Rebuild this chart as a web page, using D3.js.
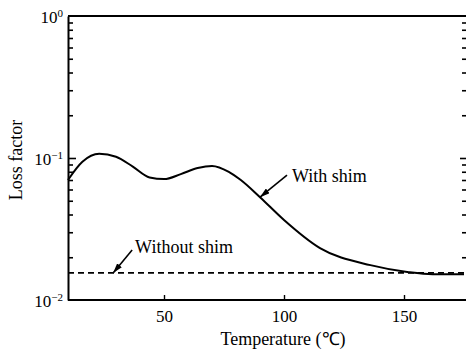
<!DOCTYPE html>
<html>
<head>
<meta charset="utf-8">
<script src="https://cdn.jsdelivr.net/npm/d3@7"></script>
<style>
    body { margin: 0; background: #fff; }
    svg text { font-family: "Liberation Serif", "Times New Roman", serif; fill: #000; }
</style>
</head>
<body>
<div class="loss-graph"></div>
<script>
//data
var withTemp = [10, 16, 23, 30, 37, 44, 50, 57, 64, 70, 77, 82, 90, 100, 115, 136, 152, 162, 175];
var withLoss = [0.070, 0.094, 0.107, 0.102, 0.087, 0.073, 0.071, 0.077, 0.085, 0.088, 0.080, 0.070, 0.053, 0.0366, 0.0232, 0.0176, 0.0157, 0.0152, 0.0152];
var withoutTemp = [10, 175];
var withoutLoss = [0.0155, 0.0155];
var xTicks = [50, 100, 150];
var yDecades = [0.01, 0.1, 1];
var yDecadeExp = ["\u22122", "\u22121", "0"];

var width = 466, height = 350;
var margin = { left: 68, top: 16, bottom: 300, right: 464 };

var x = d3.scaleLinear().domain([10, 175]).range([margin.left, margin.right]);
var y = d3.scaleLog().domain([0.01, 1]).range([margin.bottom, margin.top]);

var svg = d3.select(".loss-graph")
    .append("svg")
    .attr("width", width)
    .attr("height", height);

//minor ticks for log axis
var minorTicks = [];
[0.01, 0.1].forEach(function (d) {
    for (var k = 2; k <= 9; k++) minorTicks.push(d * k);
});

//left axis (ticks inward)
var left = svg.append("g").attr("transform", "translate(" + margin.left + ",0)");
left.call(d3.axisLeft(y).tickValues(minorTicks).tickSize(-5).tickSizeOuter(0).tickFormat(""));
left.append("g").call(d3.axisLeft(y).tickValues([0.1]).tickSize(-8).tickFormat(""))
    .select(".domain").remove();
left.select(".domain").attr("stroke-width", 2);
left.selectAll(".tick line").attr("stroke-width", 1.6);

//right axis ticks only
var right = svg.append("g").attr("transform", "translate(466,0)");
right.call(d3.axisRight(y).tickValues(minorTicks).tickSize(-4).tickFormat(""));
right.append("g").call(d3.axisRight(y).tickValues([0.1]).tickSize(-6).tickFormat(""));
right.selectAll(".domain").remove();
right.selectAll(".tick line").attr("stroke-width", 1.6);

//bottom axis
var bottom = svg.append("g").attr("transform", "translate(0," + margin.bottom + ")");
bottom.call(d3.axisBottom(x).tickValues(xTicks).tickSize(-5).tickSizeOuter(0)
    .tickFormat(d3.format("d")));
bottom.select(".domain").remove();
bottom.selectAll(".tick line").attr("stroke-width", 1.4);
bottom.selectAll(".tick text")
    .attr("y", 22).attr("dy", null)
    .style("font-size", "17px")
    .style("font-family", "'Liberation Serif', serif");

//frame lines top and bottom
svg.append("line")
    .attr("x1", margin.left).attr("x2", width)
    .attr("y1", margin.bottom).attr("y2", margin.bottom)
    .attr("stroke", "#000").attr("stroke-width", 2);
svg.append("line")
    .attr("x1", margin.left).attr("x2", width)
    .attr("y1", margin.top).attr("y2", margin.top)
    .attr("stroke", "#000").attr("stroke-width", 2);

//decade labels like 10^-1
yDecades.forEach(function (d, i) {
    var t = svg.append("text")
        .attr("x", 63)
        .attr("y", y(d) + 7)
        .attr("text-anchor", "end")
        .style("font-size", "17px");
    t.append("tspan").text("10");
    t.append("tspan").attr("dy", -6).style("font-size", "11px").text(yDecadeExp[i]);
});

//curves
var line = d3.line()
    .x(function (d) { return x(d[0]); })
    .y(function (d) { return y(d[1]); })
    .curve(d3.curveMonotoneX);

svg.append("path")
    .datum(d3.zip(withTemp, withLoss))
    .attr("d", line)
    .attr("fill", "none")
    .attr("stroke", "#000")
    .attr("stroke-width", 2);

svg.append("path")
    .datum(d3.zip(withoutTemp, withoutLoss))
    .attr("d", line)
    .attr("fill", "none")
    .attr("stroke", "#000")
    .attr("stroke-width", 1.8)
    .attr("stroke-dasharray", "6,4");

//arrowhead
svg.append("defs").append("marker")
    .attr("id", "arrow")
    .attr("viewBox", "0 0 10 6")
    .attr("refX", 10).attr("refY", 3)
    .attr("markerWidth", 10).attr("markerHeight", 6)
    .attr("markerUnits", "userSpaceOnUse")
    .attr("orient", "auto")
    .append("path")
    .attr("d", "M0,0L10,3L0,6Z")
    .attr("fill", "#000");

//annotations: tip on the curve, label offset
var notes = [
    { text: "With shim", t: 90, v: 0.053, dx: 27, dy: -22, tx: 32, ty: -15 },
    { text: "Without shim", t: 28.8, v: 0.0155, dx: 19, dy: -23, tx: 22, ty: -20 }
];
notes.forEach(function (n) {
    var px = x(n.t), py = y(n.v);
    svg.append("line")
        .attr("x1", px + n.dx).attr("y1", py + n.dy)
        .attr("x2", px).attr("y2", py)
        .attr("stroke", "#000").attr("stroke-width", 1.6)
        .attr("marker-end", "url(#arrow)");
    svg.append("text")
        .attr("x", px + n.tx)
        .attr("y", py + n.ty)
        .style("font-size", "18px")
        .text(n.text);
});

//axis titles
svg.append("text")
    .attr("x", 283).attr("y", 345)
    .attr("text-anchor", "middle")
    .style("font-size", "18px")
    .text("Temperature (\u2103)");

svg.append("text")
    .attr("transform", "translate(22,160) rotate(-90)")
    .attr("text-anchor", "middle")
    .style("font-size", "18px")
    .text("Loss factor");
</script>
</body>
</html>
